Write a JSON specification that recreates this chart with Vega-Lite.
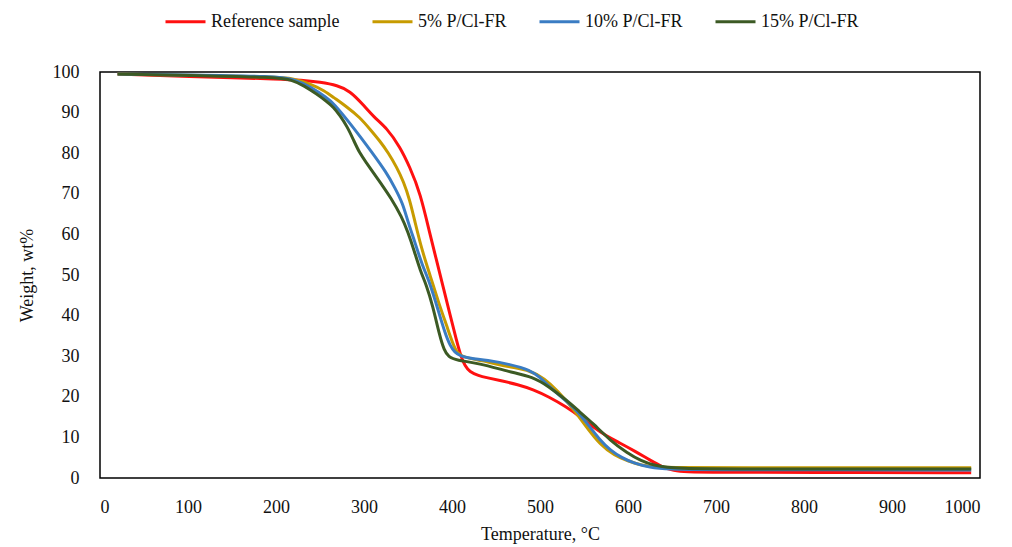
{
  "$schema": "https://vega.github.io/schema/vega-lite/v6.json",
  "width": 880,
  "height": 406,
  "autosize": {"type": "none"},
  "padding": {"left": 100, "top": 72, "right": 32, "bottom": 69},
  "background": "white",
  "config": {
    "font": "Liberation Serif",
    "view": {"stroke": "#000000", "strokeWidth": 1.5},
    "axis": {"grid": false, "ticks": false, "domain": false, "labelFont": "Liberation Serif", "titleFont": "Liberation Serif", "labelFontSize": 18, "titleFontSize": 18, "labelColor": "#111", "titleColor": "#111", "titleFontWeight": "normal"}
  },
  "data": {"values": [
    {"T":20,"W":99.5,"s":"Reference sample"},{"T":60,"W":99.2,"s":"Reference sample"},{"T":100,"W":98.9,"s":"Reference sample"},{"T":150,"W":98.6,"s":"Reference sample"},{"T":200,"W":98.3,"s":"Reference sample"},{"T":230,"W":98.0,"s":"Reference sample"},{"T":250,"W":97.5,"s":"Reference sample"},{"T":270,"W":96.7,"s":"Reference sample"},{"T":284,"W":95.3,"s":"Reference sample"},{"T":298,"W":92.2,"s":"Reference sample"},{"T":311,"W":88.9,"s":"Reference sample"},{"T":326,"W":86.2,"s":"Reference sample"},{"T":341,"W":81.5,"s":"Reference sample"},{"T":352,"W":76.6,"s":"Reference sample"},{"T":364,"W":70.2,"s":"Reference sample"},{"T":375,"W":60,"s":"Reference sample"},{"T":382,"W":54,"s":"Reference sample"},{"T":390,"W":47,"s":"Reference sample"},{"T":398,"W":40,"s":"Reference sample"},{"T":405,"W":34,"s":"Reference sample"},{"T":410,"W":30,"s":"Reference sample"},{"T":415,"W":27.5,"s":"Reference sample"},{"T":420,"W":26.2,"s":"Reference sample"},{"T":430,"W":25.2,"s":"Reference sample"},{"T":440,"W":24.7,"s":"Reference sample"},{"T":455,"W":24.0,"s":"Reference sample"},{"T":475,"W":23,"s":"Reference sample"},{"T":492,"W":21.8,"s":"Reference sample"},{"T":510,"W":20.0,"s":"Reference sample"},{"T":530,"W":17.5,"s":"Reference sample"},{"T":545,"W":15.2,"s":"Reference sample"},{"T":560,"W":12.6,"s":"Reference sample"},{"T":575,"W":10.4,"s":"Reference sample"},{"T":591,"W":8.6,"s":"Reference sample"},{"T":608,"W":6.6,"s":"Reference sample"},{"T":625,"W":4.4,"s":"Reference sample"},{"T":640,"W":2.6,"s":"Reference sample"},{"T":652,"W":1.8,"s":"Reference sample"},{"T":665,"W":1.5,"s":"Reference sample"},{"T":700,"W":1.4,"s":"Reference sample"},{"T":800,"W":1.4,"s":"Reference sample"},{"T":990,"W":1.3,"s":"Reference sample"},
    {"T":20,"W":99.5,"s":"5% P/Cl-FR"},{"T":100,"W":99.2,"s":"5% P/Cl-FR"},{"T":200,"W":98.8,"s":"5% P/Cl-FR"},{"T":220,"W":98.4,"s":"5% P/Cl-FR"},{"T":240,"W":97.0,"s":"5% P/Cl-FR"},{"T":255,"W":95.4,"s":"5% P/Cl-FR"},{"T":265,"W":93.8,"s":"5% P/Cl-FR"},{"T":280,"W":91.5,"s":"5% P/Cl-FR"},{"T":295,"W":88.9,"s":"5% P/Cl-FR"},{"T":308,"W":85.6,"s":"5% P/Cl-FR"},{"T":318,"W":83.0,"s":"5% P/Cl-FR"},{"T":328,"W":80,"s":"5% P/Cl-FR"},{"T":337,"W":76.6,"s":"5% P/Cl-FR"},{"T":345,"W":73,"s":"5% P/Cl-FR"},{"T":352,"W":68.5,"s":"5% P/Cl-FR"},{"T":358,"W":63,"s":"5% P/Cl-FR"},{"T":366,"W":56,"s":"5% P/Cl-FR"},{"T":375,"W":50,"s":"5% P/Cl-FR"},{"T":385,"W":43,"s":"5% P/Cl-FR"},{"T":394,"W":37.5,"s":"5% P/Cl-FR"},{"T":401,"W":33,"s":"5% P/Cl-FR"},{"T":406,"W":30.8,"s":"5% P/Cl-FR"},{"T":412,"W":29.8,"s":"5% P/Cl-FR"},{"T":432,"W":29.0,"s":"5% P/Cl-FR"},{"T":466,"W":27.3,"s":"5% P/Cl-FR"},{"T":489,"W":26.5,"s":"5% P/Cl-FR"},{"T":505,"W":24.5,"s":"5% P/Cl-FR"},{"T":520,"W":21.5,"s":"5% P/Cl-FR"},{"T":535,"W":17.8,"s":"5% P/Cl-FR"},{"T":553,"W":12.5,"s":"5% P/Cl-FR"},{"T":568,"W":8.3,"s":"5% P/Cl-FR"},{"T":585,"W":5.5,"s":"5% P/Cl-FR"},{"T":600,"W":4.2,"s":"5% P/Cl-FR"},{"T":614,"W":3.2,"s":"5% P/Cl-FR"},{"T":630,"W":2.7,"s":"5% P/Cl-FR"},{"T":650,"W":2.6,"s":"5% P/Cl-FR"},{"T":700,"W":2.5,"s":"5% P/Cl-FR"},{"T":990,"W":2.5,"s":"5% P/Cl-FR"},
    {"T":20,"W":99.5,"s":"10% P/Cl-FR"},{"T":100,"W":99.3,"s":"10% P/Cl-FR"},{"T":200,"W":98.9,"s":"10% P/Cl-FR"},{"T":220,"W":98.3,"s":"10% P/Cl-FR"},{"T":240,"W":96.3,"s":"10% P/Cl-FR"},{"T":258,"W":93.6,"s":"10% P/Cl-FR"},{"T":265,"W":92.4,"s":"10% P/Cl-FR"},{"T":284,"W":87.4,"s":"10% P/Cl-FR"},{"T":296,"W":84.0,"s":"10% P/Cl-FR"},{"T":307,"W":80.8,"s":"10% P/Cl-FR"},{"T":326,"W":75.1,"s":"10% P/Cl-FR"},{"T":335,"W":71.5,"s":"10% P/Cl-FR"},{"T":344,"W":67.7,"s":"10% P/Cl-FR"},{"T":350,"W":63,"s":"10% P/Cl-FR"},{"T":358,"W":58,"s":"10% P/Cl-FR"},{"T":366,"W":52.5,"s":"10% P/Cl-FR"},{"T":375,"W":48,"s":"10% P/Cl-FR"},{"T":384,"W":41.5,"s":"10% P/Cl-FR"},{"T":392,"W":35.7,"s":"10% P/Cl-FR"},{"T":398,"W":32.5,"s":"10% P/Cl-FR"},{"T":403,"W":31,"s":"10% P/Cl-FR"},{"T":410,"W":30,"s":"10% P/Cl-FR"},{"T":420,"W":29.5,"s":"10% P/Cl-FR"},{"T":440,"W":29.0,"s":"10% P/Cl-FR"},{"T":466,"W":28.0,"s":"10% P/Cl-FR"},{"T":489,"W":26.6,"s":"10% P/Cl-FR"},{"T":500,"W":24.8,"s":"10% P/Cl-FR"},{"T":511,"W":22.4,"s":"10% P/Cl-FR"},{"T":525,"W":19.8,"s":"10% P/Cl-FR"},{"T":542,"W":16.7,"s":"10% P/Cl-FR"},{"T":555,"W":13,"s":"10% P/Cl-FR"},{"T":568,"W":9.4,"s":"10% P/Cl-FR"},{"T":580,"W":6.8,"s":"10% P/Cl-FR"},{"T":593,"W":5.0,"s":"10% P/Cl-FR"},{"T":606,"W":3.7,"s":"10% P/Cl-FR"},{"T":625,"W":2.6,"s":"10% P/Cl-FR"},{"T":644,"W":2.2,"s":"10% P/Cl-FR"},{"T":700,"W":2.0,"s":"10% P/Cl-FR"},{"T":990,"W":2.0,"s":"10% P/Cl-FR"},
    {"T":20,"W":99.5,"s":"15% P/Cl-FR"},{"T":100,"W":99.2,"s":"15% P/Cl-FR"},{"T":200,"W":98.7,"s":"15% P/Cl-FR"},{"T":218,"W":98.1,"s":"15% P/Cl-FR"},{"T":232,"W":96.6,"s":"15% P/Cl-FR"},{"T":246,"W":94.6,"s":"15% P/Cl-FR"},{"T":258,"W":92.7,"s":"15% P/Cl-FR"},{"T":265,"W":91.4,"s":"15% P/Cl-FR"},{"T":273,"W":89.2,"s":"15% P/Cl-FR"},{"T":281,"W":86.5,"s":"15% P/Cl-FR"},{"T":288,"W":83.3,"s":"15% P/Cl-FR"},{"T":295,"W":80,"s":"15% P/Cl-FR"},{"T":303,"W":77.6,"s":"15% P/Cl-FR"},{"T":311,"W":75.1,"s":"15% P/Cl-FR"},{"T":320,"W":72.3,"s":"15% P/Cl-FR"},{"T":330,"W":69.2,"s":"15% P/Cl-FR"},{"T":343,"W":64.3,"s":"15% P/Cl-FR"},{"T":350,"W":60.5,"s":"15% P/Cl-FR"},{"T":357,"W":56,"s":"15% P/Cl-FR"},{"T":364,"W":51,"s":"15% P/Cl-FR"},{"T":371,"W":47.5,"s":"15% P/Cl-FR"},{"T":378,"W":42.5,"s":"15% P/Cl-FR"},{"T":386,"W":35,"s":"15% P/Cl-FR"},{"T":391,"W":31.5,"s":"15% P/Cl-FR"},{"T":396,"W":29.8,"s":"15% P/Cl-FR"},{"T":405,"W":29.0,"s":"15% P/Cl-FR"},{"T":430,"W":28.3,"s":"15% P/Cl-FR"},{"T":466,"W":26.1,"s":"15% P/Cl-FR"},{"T":492,"W":24.9,"s":"15% P/Cl-FR"},{"T":510,"W":22.5,"s":"15% P/Cl-FR"},{"T":530,"W":19.2,"s":"15% P/Cl-FR"},{"T":545,"W":16.3,"s":"15% P/Cl-FR"},{"T":560,"W":13.5,"s":"15% P/Cl-FR"},{"T":580,"W":9.2,"s":"15% P/Cl-FR"},{"T":599,"W":6.2,"s":"15% P/Cl-FR"},{"T":615,"W":4.2,"s":"15% P/Cl-FR"},{"T":630,"W":3.1,"s":"15% P/Cl-FR"},{"T":645,"W":2.6,"s":"15% P/Cl-FR"},{"T":660,"W":2.4,"s":"15% P/Cl-FR"},{"T":700,"W":2.2,"s":"15% P/Cl-FR"},{"T":990,"W":2.2,"s":"15% P/Cl-FR"}
  ]},
  "mark": {"type": "line", "interpolate": "basis", "strokeWidth": 3},
  "encoding": {
    "x": {"field": "T", "type": "quantitative", "scale": {"domain": [0, 1000], "nice": false}, "axis": {"values": [0,100,200,300,400,500,600,700,800,900,1000], "format": "d", "title": "Temperature, °C", "labelPadding": 20, "titlePadding": 9}},
    "y": {"field": "W", "type": "quantitative", "scale": {"domain": [0, 100], "nice": false}, "axis": {"values": [0,10,20,30,40,50,60,70,80,90,100], "format": "d", "title": "Weight, wt%", "labelPadding": 21, "titlePadding": 16}},
    "color": {"field": "s", "type": "nominal", "sort": ["Reference sample", "5% P/Cl-FR", "10% P/Cl-FR", "15% P/Cl-FR"],
      "scale": {"domain": ["Reference sample", "5% P/Cl-FR", "10% P/Cl-FR", "15% P/Cl-FR"], "range": ["#FF1010", "#C79B00", "#3A7CC3", "#3C5A24"]},
      "legend": {"title": null, "orient": "none", "direction": "horizontal", "legendX": 64, "legendY": -72, "symbolType": "stroke", "symbolSize": 1600, "symbolStrokeWidth": 3, "labelFontSize": 18, "labelFont": "Liberation Serif", "labelColor": "#111", "columnPadding": 26, "labelOffset": 4}}
  }
}
